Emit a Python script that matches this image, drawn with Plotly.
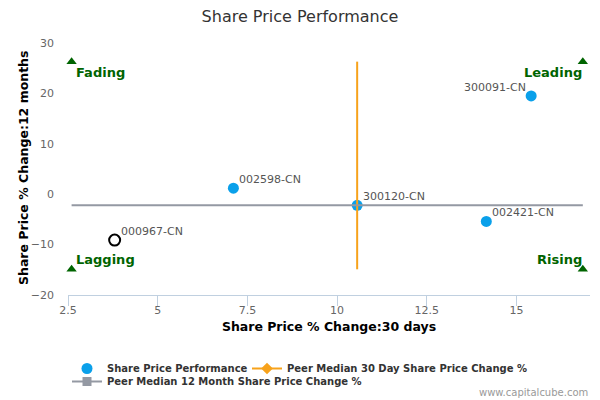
import plotly.graph_objects as go

# peers (blue dots)
peer_names = ["300120-CN", "002598-CN", "300091-CN", "002421-CN"]
peer_x = [10.56, 7.11, 15.41, 14.16]
peer_y = [-2.2, 1.2, 19.5, -5.4]

# company in focus (hollow circle)
focus_name = "000967-CN"
focus_x = [3.80]
focus_y = [-9.1]

# peer medians
median_30d = 10.56
median_12m = -2.2

# quadrant corners
quad_names = ["Fading", "Leading", "Lagging", "Rising"]
quad_x = [2.6, 16.85, 2.6, 16.85]
quad_y = [26.3, 26.3, -14.9, -14.9]

FONT = "DejaVu Sans"
BLUE = "#0aa0ea"
ORANGE = "#f7a21b"
GREY = "#9499a3"
GREEN = "#006400"

# page body has an 8px margin, so the figure is drawn 8px smaller
W, H = 592, 392
PLOT_L, PLOT_R, PLOT_T, PLOT_B = 60, 582, 35, 287

fig = go.Figure()

fig.add_trace(go.Scatter(
    x=peer_x, y=peer_y, mode="markers", name="Share Price Performance",
    marker=dict(color=BLUE, size=11), legend="legend",
))

fig.add_trace(go.Scatter(
    x=focus_x, y=focus_y, mode="markers", showlegend=False,
    marker=dict(color="white", size=11, line=dict(color="black", width=2)),
))

# median lines, drawn over the dots
fig.add_trace(go.Scatter(
    x=[median_30d, median_30d], y=[quad_y[2], quad_y[0]], mode="lines",
    showlegend=False, line=dict(color=ORANGE, width=2),
))
fig.add_trace(go.Scatter(
    x=[quad_x[0], quad_x[1]], y=[median_12m, median_12m], mode="lines",
    showlegend=False, line=dict(color=GREY, width=2),
))

# legend-only entries (line + marker symbol)
fig.add_trace(go.Scatter(
    x=[None], y=[None], mode="lines+markers",
    name="Peer Median 30 Day Share Price Change %", legend="legend2",
    line=dict(color=ORANGE, width=2), marker=dict(symbol="diamond", size=9, color=ORANGE),
))
fig.add_trace(go.Scatter(
    x=[None], y=[None], mode="lines+markers",
    name="Peer Median 12 Month Share Price Change %", legend="legend3",
    line=dict(color=GREY, width=2), marker=dict(symbol="square", size=9, color=GREY),
))

fig.add_trace(go.Scatter(
    x=quad_x, y=quad_y, mode="markers", showlegend=False,
    marker=dict(symbol="triangle-up", color=GREEN, size=9),
    cliponaxis=False,
))

# point labels
label_side = ["left", "left", "right", "left"]
for name, px, py, side in zip(peer_names + [focus_name], peer_x + focus_x,
                              peer_y + focus_y, label_side + ["left"]):
    fig.add_annotation(
        x=px, y=py, text=name, showarrow=False,
        xanchor=side, yanchor="bottom",
        xshift=4 if side == "left" else -3, yshift=0,
        font=dict(family=FONT, size=11, color="#555555"),
    )

# quadrant labels
offsets = [(2, -11, "left"), (1, -11, "right"), (2, 10, "left"), (1, 10, "right")]
for name, qx, qy, (dx, dy, anchor) in zip(quad_names, quad_x, quad_y, offsets):
    fig.add_annotation(
        x=qx, y=qy, text="<b>%s</b>" % name, showarrow=False,
        xanchor=anchor, xshift=dx, yshift=dy,
        font=dict(family=FONT, size=13, color=GREEN),
    )


def paper_x(px):
    return (px - PLOT_L) / (PLOT_R - PLOT_L)


def paper_y(py):
    return (PLOT_B - py) / (PLOT_B - PLOT_T)


# y axis title (as annotation, the built-in one jumps around with extra legends)
fig.add_annotation(
    x=paper_x(15), y=paper_y(160), xref="paper", yref="paper",
    xanchor="center", yanchor="middle", textangle=-90,
    text="<b>Share Price % Change:12 months</b>", showarrow=False,
    font=dict(family=FONT, size=12.5, color="#000000"),
)

# watermark, bottom right of the page
fig.add_annotation(
    x=1.0, y=paper_y(384), xref="paper", yref="paper",
    xanchor="right", yanchor="middle",
    text="www.capitalcube.com", showarrow=False,
    font=dict(family=FONT, size=10, color="#999999"),
)

leg_font = dict(family=FONT, size=10, color="#333333", weight="bold")


def legend_at(px, py):
    return dict(xref="container", x=px / W, xanchor="left",
                yref="container", y=1 - py / H, yanchor="top",
                font=leg_font, bgcolor="rgba(0,0,0,0)")


fig.update_layout(
    width=W, height=H,
    title=dict(text="Share Price Performance", x=292 / W, xanchor="center",
               y=1 - 8 / H, yref="container", yanchor="middle",
               font=dict(family=FONT, size=16, color="#333333")),
    margin=dict(l=PLOT_L, r=W - PLOT_R, t=PLOT_T, b=H - PLOT_B, autoexpand=False),
    plot_bgcolor="white", paper_bgcolor="white",
    font=dict(family=FONT, color="#666666"),
    legend=legend_at(59, 346),
    legend2=legend_at(239, 346),
    legend3=legend_at(59, 359),
)

fig.update_xaxes(
    range=[2.5, 17.05], tickvals=[2.5, 5, 7.5, 10, 12.5, 15],
    ticktext=["2.5", "5", "7.5", "10", "12.5", "15"],
    showgrid=False, zeroline=False, showline=True, linecolor="#c0d0e0",
    ticks="outside", ticklen=10, tickcolor="#c0d0e0",
    ticklabelstandoff=-5,
    tickfont=dict(family=FONT, size=11, color="#666666"),
    title=dict(text="<b>Share Price % Change:30 days</b>",
               font=dict(family=FONT, size=12.5, color="#000000"), standoff=6),
)

fig.update_yaxes(
    range=[-20, 30], tickvals=[-20, -10, 0, 10, 20, 30],
    showgrid=False, zeroline=False, showline=False,
    ticklabelstandoff=13,
    tickfont=dict(family=FONT, size=11, color="#666666"),
)

fig.write_html("out.html")
